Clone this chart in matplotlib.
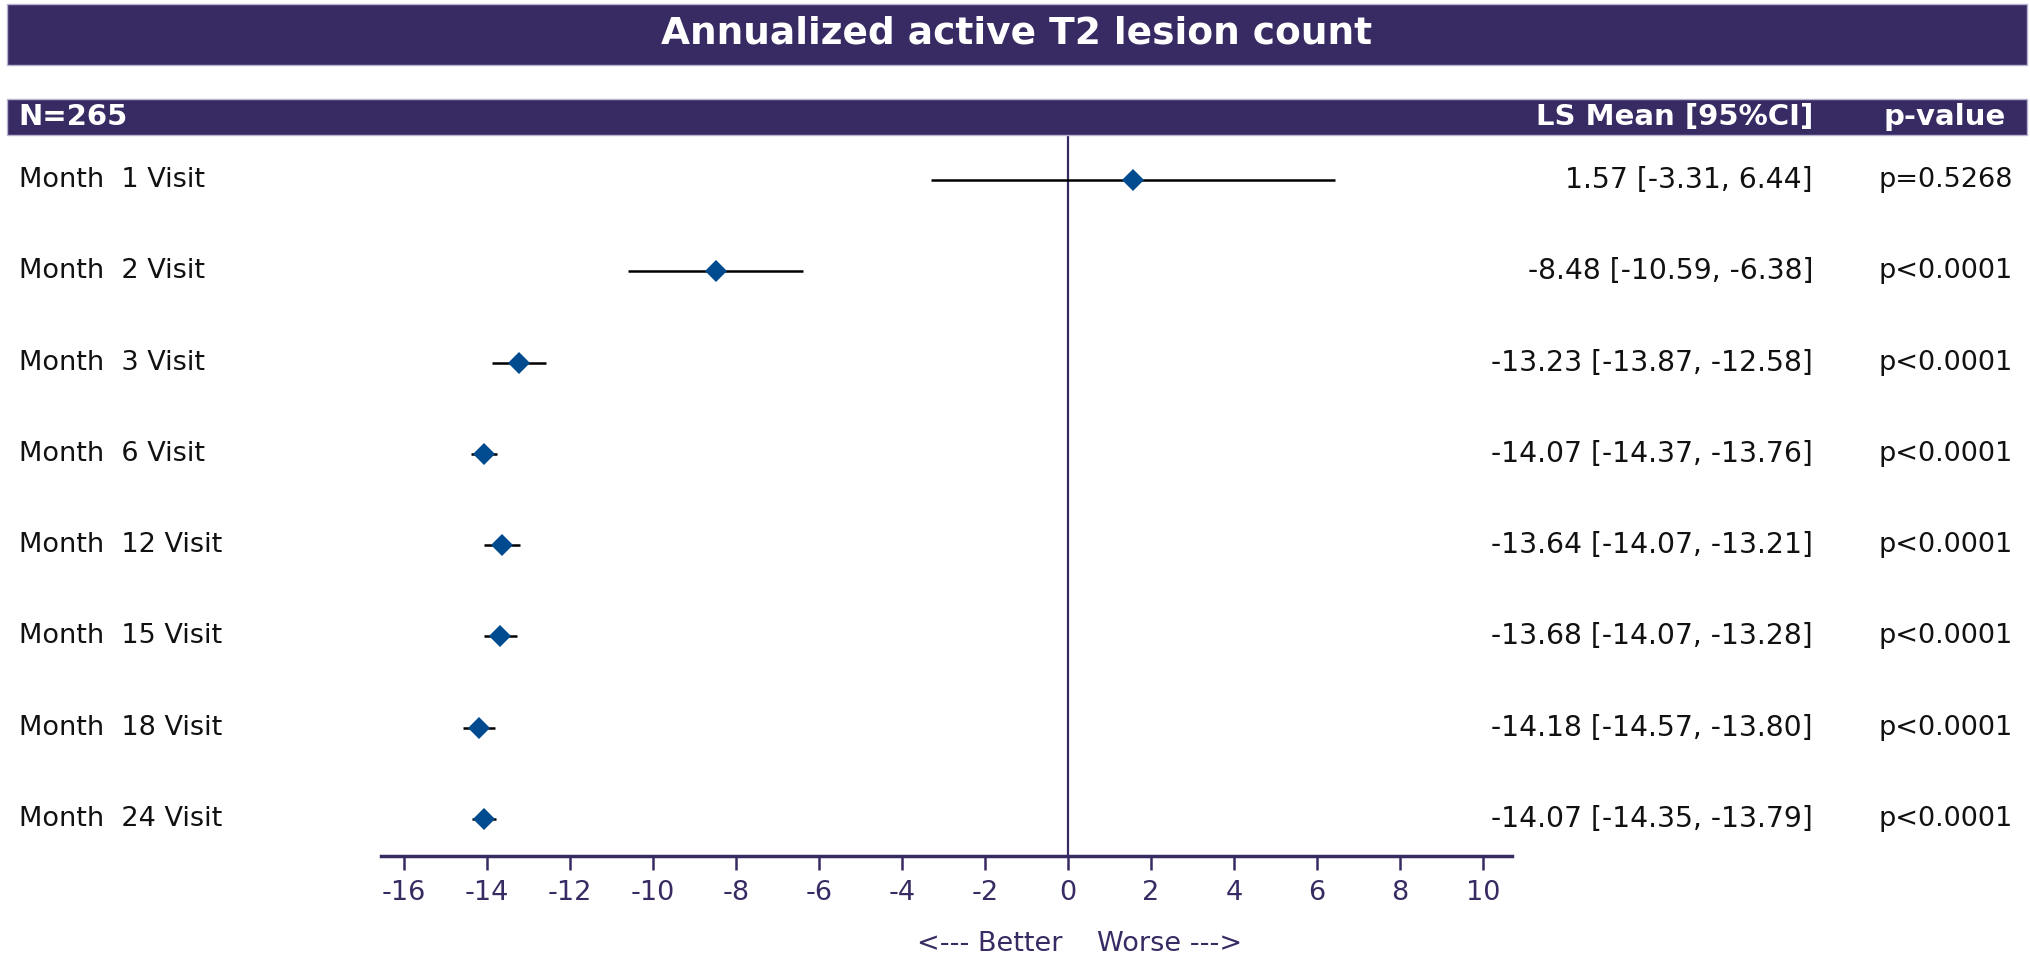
import matplotlib
matplotlib.use("Agg")
import matplotlib.pyplot as plt
from matplotlib.patches import Rectangle
from matplotlib.transforms import blended_transform_factory

plt.rcParams['font.family'] = ['DejaVu Sans']

# data
visits = ["Month  1 Visit", "Month  2 Visit", "Month  3 Visit", "Month  6 Visit",
          "Month  12 Visit", "Month  15 Visit", "Month  18 Visit", "Month  24 Visit"]
ls_mean = [1.57, -8.48, -13.23, -14.07, -13.64, -13.68, -14.18, -14.07]
ci_low = [-3.31, -10.59, -13.87, -14.37, -14.07, -14.07, -14.57, -14.35]
ci_high = [6.44, -6.38, -12.58, -13.76, -13.21, -13.28, -13.80, -13.79]
p_values = ["p=0.5268", "p<0.0001", "p<0.0001", "p<0.0001",
            "p<0.0001", "p<0.0001", "p<0.0001", "p<0.0001"]
ticks = list(range(-16, 11, 2))

bar_col = '#382b63'
dot_col = '#004a8f'
W, H = 2031, 958

fig = plt.figure(figsize=(W / 100, H / 100), dpi=100)

def fx(px):
    return px / W

def fy(py):
    return 1 - py / H

# title bar and header bar
fig.patches.append(Rectangle((fx(7), fy(65)), fx(2020), 61 / H, transform=fig.transFigure,
                             facecolor=bar_col, edgecolor='#b8b3d0', lw=1))
fig.text(fx(1017), fy(34), "Annualized active T2 lesion count", color='white',
         fontsize=27, fontweight='bold', ha='center', va='center')
fig.patches.append(Rectangle((fx(7), fy(135)), fx(2020), 36 / H, transform=fig.transFigure,
                             facecolor=bar_col, edgecolor='#b8b3d0', lw=1))
fig.text(fx(18), fy(117), "N=265", color='white', fontsize=21, fontweight='bold',
         ha='left', va='center')
fig.text(fx(1813), fy(117), "LS Mean [95%CI]", color='white', fontsize=21,
         fontweight='bold', ha='right', va='center')
fig.text(fx(1945), fy(117), "p-value", color='white', fontsize=21,
         fontweight='bold', ha='center', va='center')

ax = fig.add_axes([fx(381), fy(856), fx(1512 - 381), (856 - 135) / H])
y = list(range(1, len(visits) + 1))
xerr = [[m - lo for m, lo in zip(ls_mean, ci_low)], [hi - m for m, hi in zip(ls_mean, ci_high)]]
ax.axvline(0, color=bar_col, lw=1.6, zorder=1)
ax.errorbar(ls_mean, y, xerr=xerr, fmt='none', ecolor='black', elinewidth=1.8, capsize=0, zorder=2)
ax.plot(ls_mean, y, 'D', color=dot_col, markersize=11, markeredgewidth=0, zorder=3)

ax.set_xlim(-16.55, 10.7)
ax.set_ylim(8.405, 0.507)
ax.set_xticks(ticks)
ax.set_xticklabels([str(t) for t in ticks])
ax.set_yticks([])
for s in ['top', 'left', 'right']:
    ax.spines[s].set_visible(False)
ax.spines['bottom'].set_color(bar_col)
ax.spines['bottom'].set_linewidth(2.5)
ax.tick_params(axis='x', colors=bar_col, labelsize=19.5, length=10, width=1.8, pad=7)

# row texts
tr = blended_transform_factory(fig.transFigure, ax.transData)
for yi, name, m, lo, hi, p in zip(y, visits, ls_mean, ci_low, ci_high, p_values):
    ax.text(fx(19), yi, name, transform=tr, fontsize=19.5, ha='left', va='center',
            color='#111111', clip_on=False)
    ax.text(fx(1813), yi, f"{m:.2f} [{lo:.2f}, {hi:.2f}]", transform=tr, fontsize=20.3,
            ha='right', va='center', color='#111111', clip_on=False)
    ax.text(fx(1879), yi, p, transform=tr, fontsize=19.5, ha='left', va='center',
            color='#111111', clip_on=False)

fig.text(fx(1080), fy(944), "<--- Better    Worse --->", color=bar_col, fontsize=19.5,
         ha='center', va='center')

fig.savefig("out.png", dpi=100)
